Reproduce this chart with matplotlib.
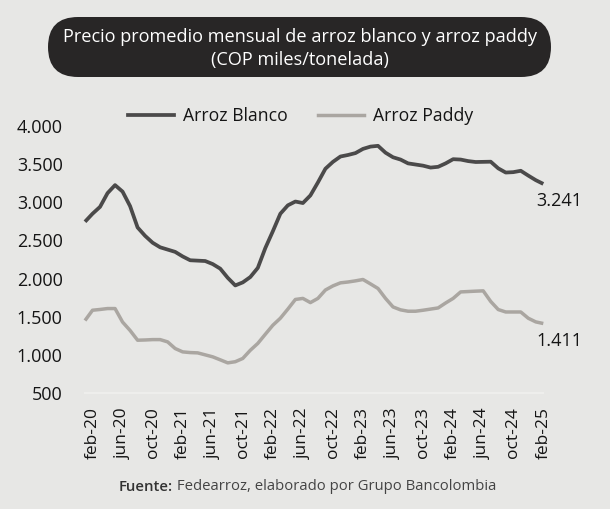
import matplotlib
matplotlib.use("Agg")
import matplotlib.pyplot as plt
from matplotlib.patches import FancyBboxPatch
from matplotlib.lines import Line2D

# ---- data (monthly, ene-20 .. feb-25) ----
blanco = [2745, 2850, 2940, 3120, 3225, 3140, 2950, 2670, 2560, 2470, 2410, 2380,
          2350, 2290, 2240, 2235, 2230, 2190, 2130, 2010, 1910, 1950, 2020, 2140,
          2400, 2620, 2850, 2960, 3010, 2990, 3090, 3260, 3440, 3530, 3600, 3620,
          3645, 3700, 3730, 3740, 3650, 3590, 3560, 3510, 3495, 3480, 3455, 3465,
          3510, 3565, 3560, 3540, 3528, 3530, 3532, 3445, 3390, 3395, 3413, 3350,
          3290, 3241]
paddy = [1450, 1585, 1595, 1607, 1607, 1430, 1320, 1192, 1195, 1200, 1200, 1170,
         1083, 1039, 1030, 1026, 1000, 974, 935, 895, 910, 953, 1060, 1150,
         1270, 1388, 1480, 1600, 1726, 1740, 1685, 1740, 1850, 1904, 1944, 1955,
         1970, 1988, 1930, 1870, 1740, 1628, 1590, 1572, 1572, 1585, 1600, 1615,
         1680, 1740, 1825, 1830, 1835, 1839, 1700, 1594, 1562, 1562, 1562, 1480,
         1432, 1411]
tick_labels = ["feb-20", "jun-20", "oct-20", "feb-21", "jun-21", "oct-21", "feb-22", "jun-22",
               "oct-22", "feb-23", "jun-23", "oct-23", "feb-24", "jun-24", "oct-24", "feb-25"]
yticks = [500, 1000, 1500, 2000, 2500, 3000, 3500, 4000]
series_names = ["Arroz Blanco", "Arroz Paddy"]
title_lines = ["Precio promedio mensual de arroz blanco y arroz paddy", "(COP miles/tonelada)"]
source_bold = "Fuente:"
source_rest = " Fedearroz, elaborado por Grupo Bancolombia"

FONT = ["Open Sans", "DejaVu Sans"]
plt.rcParams["font.family"] = FONT
BG = "#e7e7e5"
C_BLANCO = "#4b4a4a"
C_PADDY = "#aaa6a1"
TXT = "#151515"

W, H = 610, 509
fig = plt.figure(figsize=(W / 100, H / 100), dpi=100, facecolor=BG)

# axes placement in pixels
x0, x1 = 85, 543.3
ytop, ybot = 126, 393
ax = fig.add_axes([x0 / W, (H - ybot) / H, (x1 - x0) / W, (ybot - ytop) / H])
ax.set_facecolor(BG)

x = list(range(len(blanco)))
ax.plot(x, blanco, color=C_BLANCO, lw=2.7, solid_capstyle="butt", solid_joinstyle="round", clip_on=False)
ax.plot(x, paddy, color=C_PADDY, lw=2.5, solid_capstyle="butt", solid_joinstyle="round", clip_on=False)
ax.set_xlim(0, len(blanco) - 1)
ax.set_ylim(500, 4000)

ax.set_yticks(yticks)
ax.set_yticklabels([f"{v:,}".replace(",", ".") for v in yticks])
tick_pos = list(range(1, len(blanco), 4))
ax.set_xticks(tick_pos)
ax.set_xticklabels(tick_labels, rotation=90)
ax.tick_params(axis="y", length=0, pad=16, labelsize=13, labelcolor=TXT)
ax.tick_params(axis="x", length=0, pad=10, labelsize=12.5, labelcolor=TXT)
for s in ["top", "right", "left"]:
    ax.spines[s].set_visible(False)
ax.spines["bottom"].set_color("#eeeeec")
ax.spines["bottom"].set_linewidth(1.5)

# end labels
for series in (blanco, paddy):
    ax.annotate(f"{series[-1]:,}".replace(",", "."), (x[-1], series[-1]), xytext=(-7, -17),
                textcoords="offset pixels", ha="left", va="center", fontsize=13, color=TXT,
                annotation_clip=False)

# legend
handles = [Line2D([], [], color=C_BLANCO, lw=2.7), Line2D([], [], color=C_PADDY, lw=2.5)]
fig.legend(handles, series_names, loc="center left", bbox_to_anchor=(128 / W, (H - 116) / H),
           ncol=2, frameon=False, fontsize=12.7, handlelength=2.6, handletextpad=0.5,
           columnspacing=1.75, borderpad=0, borderaxespad=0, labelcolor=TXT)

# title box
box = FancyBboxPatch((48 / 100, (H - 77) / 100), (551 - 48) / 100, 60 / 100,
                     boxstyle="round,pad=0,rounding_size=0.30", transform=fig.dpi_scale_trans,
                     facecolor="#282626", edgecolor="none")
fig.patches.append(box)
fig.text(300 / W, (H - 37) / H, title_lines[0], ha="center", va="center", color="white", fontsize=13.1)
fig.text(300 / W, (H - 60) / H, title_lines[1], ha="center", va="center", color="white", fontsize=13.1)

# source
fig.canvas.draw()
r = fig.canvas.get_renderer()
t1 = fig.text(0, (H - 487) / H, source_bold, ha="left", va="center", color="#333333",
              fontsize=10.7, fontweight="semibold")
t2 = fig.text(0, (H - 487) / H, source_rest, ha="left", va="center", color="#444444", fontsize=10.7)
w1 = t1.get_window_extent(r).width
w2 = t2.get_window_extent(r).width
start = 307.5 - (w1 + w2) / 2
t1.set_x(start / W)
t2.set_x((start + w1) / W)

fig.savefig("out.png", dpi=100, facecolor=BG)
